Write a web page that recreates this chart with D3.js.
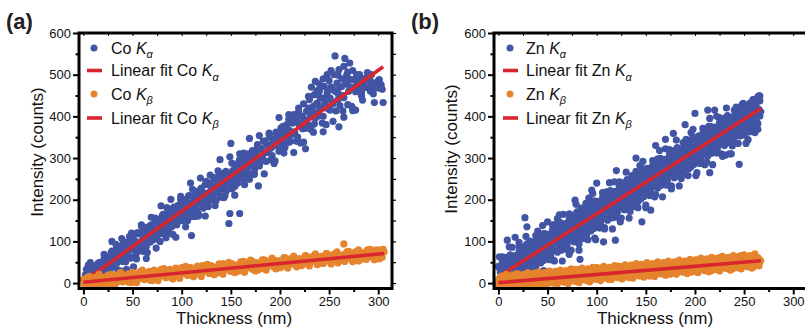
<!DOCTYPE html>
<html><head><meta charset="utf-8">
<script src="https://cdn.jsdelivr.net/npm/d3@7/dist/d3.min.js"></script>
<style>body{margin:0;background:#fff}svg{display:block}text{font-family:"Liberation Sans",Arial,Helvetica,sans-serif}</style>
</head><body><svg id="c" width="805" height="331"></svg>
<script>
// ---------- DATA ----------
const xTicks=[0,50,100,150,200,250,300];
const xMinor=[25,75,125,175,225,275];
const yTicks=[0,100,200,300,400,500,600];
const yMinor=[50,150,250,350,450,550];

const coKaFit=[[0,3],[305,519]];
const coKbFit=[[0,2],[306,71]];
const znKaFit=[[0,15],[267,419]];
const znKbFit=[[0,1],[267,53.5]];

const coKa=[[1,8],[2,20],[3,2],[4,14],[5,43],[5,26],[6,6],[7,18],[8,30],[9,12],[10,38],[10,22],[11,4],[12,28],[13,42],[14,16],[15,33],[16,24],[17,50],[18,36],[19,20],[20,44],[21,58],[22,30],[23,48],[24,62],[25,40],[26,55],[27,30],[28,72],[29,50],[30,40],[31,64],[32,56],[33,80],[34,48],[35,70],[36,86],[37,58],[38,66],[39,90],[40,52],[41,74],[42,98],[43,51],[44,82],[45,68],[46,100],[47,80],[48,60],[49,92],[50,110],[51,39],[52,84],[53,100],[54,72],[55,118],[56,94],[57,86],[58,120],[59,78],[60,104],[61,128],[62,96],[63,112],[64,88],[65,134],[66,108],[67,120],[68,98],[69,140],[70,118],[71,104],[72,130],[73,148],[74,112],[75,126],[76,150],[77,138],[78,100],[79,142],[80,160],[81,128],[82,146],[83,120],[84,166],[85,142],[86,154],[87,130],[88,176],[89,150],[90,136],[91,164],[92,182],[93,148],[94,170],[95,140],[96,186],[97,160],[98,176],[99,150],[100,196],[101,168],[102,186],[103,158],[104,200],[105,178],[106,150],[107,192],[108,210],[109,172],[110,114],[110,188],[111,160],[112,204],[113,182],[114,220],[115,176],[116,196],[117,166],[118,214],[119,190],[120,228],[121,200],[122,180],[123,216],[124,236],[125,196],[126,212],[127,184],[128,240],[129,220],[130,200],[131,232],[132,210],[133,250],[134,226],[135,198],[136,240],[137,218],[138,256],[139,232],[140,206],[141,250],[142,226],[143,264],[144,240],[145,220],[146,258],[147,236],[148,143],[149,167],[150,335],[150,248],[151,226],[152,270],[153,250],[154,232],[155,278],[156,256],[157,240],[158,290],[159,167],[159,262],[160,280],[161,250],[162,300],[163,272],[164,256],[165,290],[166,268],[167,310],[168,280],[169,262],[170,300],[171,284],[172,318],[173,292],[174,270],[175,312],[176,296],[177,326],[178,233],[178,300],[179,286],[180,320],[182,304],[183,340],[184,312],[186,292],[187,332],[188,318],[190,350],[191,324],[192,306],[194,344],[195,330],[196,362],[198,338],[199,316],[200,356],[201,372],[203,340],[204,362],[205,330],[207,380],[208,354],[209,393],[210,366],[211,340],[213,384],[214,404],[215,362],[217,392],[218,350],[219,420],[220,380],[222,400],[223,370],[224,430],[225,392],[226,322],[227,412],[228,380],[230,440],[231,404],[232,376],[232,470],[234,424],[235,452],[236,396],[236,484],[238,432],[238,462],[239,410],[240,460],[240,478],[241,420],[242,470],[243,444],[244,400],[244,490],[245,472],[246,432],[248,456],[248,500],[249,418],[250,486],[251,444],[252,470],[252,510],[254,430],[255,500],[256,545],[256,460],[258,480],[259,440],[260,375],[260,512],[261,470],[263,490],[264,450],[265,398],[265,520],[266,539],[267,478],[268,500],[270,460],[271,528],[272,488],[274,510],[275,417],[276,470],[277,415],[278,500],[280,478],[281,500],[283,449],[284,467],[285,490],[286,490],[287,471],[288,470],[289,492],[290,488],[292,460],[292,499],[293,500],[294,463],[295,454],[296,433],[297,480],[299,470],[300,485],[302,478],[305,433],
[1,2],[3,33],[5,5],[7,49],[9,4],[11,32],[13,6],[15,48],[17,20],[19,39],[21,69],[23,18],[25,59],[27,31],[29,77],[31,49],[33,93],[35,32],[37,76],[39,29],[41,92],[43,64],[45,83],[47,112],[49,62],[51,103],[53,75],[55,121],[57,93],[59,137],[61,76],[63,119],[65,73],[67,136],[69,108],[71,127],[73,156],[75,106],[77,147],[79,119],[81,165],[83,137],[85,181],[87,120],[89,163],[91,117],[93,180],[95,152],[97,171],[99,200],[101,150],[103,191],[105,162],[107,209],[109,181],[111,225],[113,164],[115,207],[117,161],[119,224],[121,195],[123,215],[125,244],[127,194],[129,235],[131,206],[133,253],[135,225],[137,269],[139,208],[141,251],[143,205],[145,268],[147,239],[149,259],[151,288],[153,238],[155,279],[157,250],[159,297],[161,269],[163,312],[165,252],[167,295],[169,249],[171,312],[173,283],[175,303],[177,332],[179,281],[181,323],[183,294],[185,341],[187,313],[189,356],[191,296],[193,339],[195,293],[197,356],[199,327],[201,347],[203,376],[205,325],[207,367],[209,338],[211,385],[213,357],[215,400],[217,340],[219,383],[221,336],[223,400],[225,371],[227,391],[229,420],[231,369],[233,411],[235,382],[237,429],[239,401],[241,444],[243,384],[245,427],[247,380],[249,444],[251,415],[253,435],[255,464],[257,413],[259,455],[261,426],[263,472],[265,445],[267,488],[269,428],[271,471],[273,424],[275,488],[277,459],[279,479],[281,485],[283,457],[285,480],[287,470],[289,490],[291,489],[293,482],[295,472],[297,470],[299,468],[301,488],[303,475],
[29,100],[34,9],[39,107],[44,33],[49,120],[54,58],[59,140],[64,59],[69,158],[74,84],[79,185],[84,109],[89,201],[94,110],[99,208],[104,135],[109,240],[114,160],[119,252],[124,161],[129,259],[134,186],[139,296],[144,210],[149,303],[154,211],[159,310],[164,236],[169,347],[174,261],[179,354],[184,262],[189,360],[194,287],[199,397],[204,312],[209,404],[214,313],[219,411],[224,338],[229,448],[234,362],[239,455],[244,363],[249,462],[254,388],[259,499],[264,413],[269,506],[274,414],[279,470],[284,439],[289,505],[294,464],[299,480],[304,465]];

const coKb=[[0,9],[2,-8],[4,5],[6,16],[8,-1],[10,-9],[12,14],[14,3],[16,21],[18,-2],[20,11],[22,14],[24,-3],[26,10],[28,21],[30,4],[32,-4],[34,19],[36,8],[38,26],[40,3],[42,15],[44,19],[46,2],[48,15],[50,26],[52,9],[54,1],[56,24],[58,13],[60,31],[62,8],[64,20],[66,24],[68,7],[70,20],[72,31],[74,14],[76,6],[78,29],[80,18],[82,35],[84,13],[86,25],[88,29],[90,12],[92,25],[94,36],[96,19],[98,11],[100,34],[102,23],[104,40],[106,18],[108,30],[110,34],[112,17],[114,30],[116,41],[118,24],[120,16],[122,39],[124,28],[126,45],[128,23],[130,35],[132,39],[134,22],[136,35],[138,46],[140,29],[142,21],[144,43],[146,33],[148,50],[150,28],[152,40],[154,44],[156,27],[158,40],[160,51],[162,33],[164,26],[166,48],[168,38],[170,55],[172,33],[174,45],[176,49],[178,32],[180,45],[182,56],[184,38],[186,31],[188,53],[190,43],[192,60],[194,38],[196,50],[198,54],[200,37],[202,50],[204,61],[206,43],[208,36],[210,58],[212,48],[214,65],[216,43],[218,55],[220,59],[222,42],[224,54],[226,66],[228,48],[230,41],[232,63],[234,53],[236,70],[238,48],[240,60],[242,64],[244,47],[246,59],[248,71],[250,53],[252,46],[254,68],[256,58],[258,75],[260,53],[262,65],[264,68],[266,52],[268,64],[270,76],[272,58],[274,51],[276,73],[278,63],[280,80],[282,57],[284,70],[286,73],[288,57],[290,69],[292,81],[294,63],[296,56],[298,78],[300,68],[302,80],[304,62],[306,75],
[1,-1],[4,14],[7,-8],[10,9],[13,-3],[16,19],[19,7],[22,4],[25,19],[28,-4],[31,14],[34,2],[37,23],[40,12],[43,9],[46,23],[49,1],[52,19],[55,6],[58,28],[61,17],[64,13],[67,28],[70,6],[73,23],[76,11],[79,33],[82,21],[85,18],[88,33],[91,10],[94,28],[97,16],[100,37],[103,26],[106,23],[109,38],[112,15],[115,33],[118,21],[121,42],[124,31],[127,28],[130,42],[133,20],[136,38],[139,25],[142,47],[145,36],[148,32],[151,47],[154,25],[157,42],[160,30],[163,52],[166,40],[169,37],[172,52],[175,29],[178,47],[181,35],[184,56],[187,45],[190,42],[193,56],[196,34],[199,52],[202,39],[205,61],[208,50],[211,46],[214,61],[217,39],[220,57],[223,44],[226,66],[229,55],[232,51],[235,66],[238,44],[241,61],[244,49],[247,71],[250,59],[253,56],[256,71],[259,48],[262,66],[265,54],[268,75],[271,64],[274,61],[277,75],[280,53],[283,71],[286,58],[289,80],[292,69],[295,65],[298,80],[301,58],[304,75],[265,94],[305,81]];

const znKa=[[0,40],[1,-5],[2,26],[3,5],[4,63],[5,18],[6,-3],[7,44],[8,2],[9,62],[10,20],[11,87],[12,3],[13,38],[14,4],[15,60],[16,37],[17,66],[18,4],[19,52],[20,30],[21,89],[22,43],[23,2],[24,69],[25,28],[26,87],[27,46],[28,112],[29,29],[30,63],[31,2],[32,85],[33,63],[34,91],[35,30],[36,77],[37,56],[38,114],[39,69],[40,27],[41,95],[42,53],[43,113],[44,71],[45,138],[46,54],[47,89],[48,27],[49,111],[50,89],[51,117],[52,56],[53,103],[54,82],[55,140],[56,95],[57,53],[58,121],[59,79],[60,139],[61,97],[62,164],[63,80],[64,115],[65,53],[66,137],[67,114],[68,143],[69,81],[70,129],[71,107],[72,166],[73,120],[74,79],[75,146],[76,105],[77,164],[78,123],[79,189],[80,106],[81,140],[82,79],[83,162],[84,140],[85,168],[86,107],[87,154],[88,133],[89,191],[90,146],[91,104],[92,172],[93,130],[94,190],[95,148],[96,215],[97,131],[98,166],[99,104],[100,188],[101,165],[102,194],[103,132],[104,180],[105,159],[106,217],[107,172],[108,130],[109,198],[110,156],[111,216],[112,174],[113,241],[114,157],[115,192],[116,130],[117,214],[118,191],[119,220],[120,158],[121,206],[122,184],[123,243],[124,197],[125,156],[126,223],[127,182],[128,241],[129,200],[130,266],[131,183],[132,217],[133,156],[134,239],[135,217],[136,245],[137,184],[138,231],[139,210],[140,268],[141,223],[142,181],[143,249],[144,207],[145,267],[146,225],[147,292],[148,208],[149,243],[150,181],[151,265],[152,242],[153,271],[154,210],[155,257],[156,236],[157,294],[158,249],[159,207],[160,275],[161,233],[162,293],[163,251],[164,318],[165,234],[166,269],[167,207],[168,291],[169,268],[170,297],[171,235],[172,283],[173,261],[174,320],[175,274],[176,233],[177,300],[178,259],[179,318],[180,277],[181,343],[182,260],[183,294],[184,233],[185,316],[186,294],[187,322],[188,261],[189,308],[190,287],[191,345],[192,300],[193,258],[194,326],[195,284],[196,344],[197,302],[198,369],[199,285],[200,320],[201,258],[202,342],[203,319],[204,348],[205,287],[206,334],[207,313],[208,371],[209,326],[210,284],[211,352],[212,310],[213,370],[214,328],[215,395],[216,311],[217,346],[218,284],[219,368],[220,345],[221,374],[222,312],[223,360],[224,338],[225,397],[226,351],[227,310],[228,377],[229,336],[230,395],[231,354],[232,420],[233,337],[234,371],[235,310],[236,393],[237,371],[238,399],[239,338],[240,385],[241,364],[242,422],[243,377],[244,335],[245,403],[246,361],[247,421],[248,379],[249,431],[250,362],[251,397],[252,335],[253,419],[254,396],[255,425],[256,363],[257,411],[258,389],[259,440],[260,403],[261,361],[262,429],[263,387],[264,447],[265,405],[266,449],
[0,-5],[2,30],[4,2],[6,62],[8,19],[10,58],[12,0],[14,86],[16,25],[18,48],[20,5],[22,78],[24,23],[26,34],[28,69],[30,15],[32,101],[34,58],[36,97],[38,39],[40,125],[42,64],[44,87],[46,30],[48,118],[50,63],[52,74],[54,109],[56,55],[58,141],[60,98],[62,137],[64,79],[66,165],[68,104],[70,127],[72,69],[74,157],[76,102],[78,113],[80,148],[82,94],[84,180],[86,137],[88,176],[90,118],[92,204],[94,143],[96,166],[98,108],[100,196],[102,141],[104,152],[106,187],[108,133],[110,219],[112,176],[114,215],[116,157],[118,243],[120,182],[122,205],[124,147],[126,235],[128,180],[130,191],[132,226],[134,172],[136,258],[138,215],[140,254],[142,196],[144,282],[146,221],[148,245],[150,187],[152,275],[154,220],[156,231],[158,266],[160,212],[162,298],[164,255],[166,294],[168,236],[170,322],[172,261],[174,284],[176,226],[178,314],[180,259],[182,270],[184,305],[186,251],[188,337],[190,294],[192,333],[194,275],[196,361],[198,300],[200,323],[202,265],[204,353],[206,298],[208,309],[210,344],[212,290],[214,376],[216,333],[218,372],[220,314],[222,400],[224,339],[226,362],[228,304],[230,392],[232,337],[234,348],[236,383],[238,329],[240,415],[242,372],[244,411],[246,353],[248,428],[250,379],[252,402],[254,344],[256,432],[258,377],[260,388],[262,423],[264,369],[266,437],
[0,3],[1,37],[2,0],[3,26],[4,51],[5,3],[6,38],[7,22],[8,51],[9,-3],[10,32],[11,16],[12,68],[13,45],[14,28],[15,56],[16,15],[17,29],[18,62],[19,16],[20,51],[21,77],[22,28],[23,64],[24,47],[25,77],[26,22],[27,58],[28,41],[29,94],[30,70],[31,54],[32,81],[33,41],[34,54],[35,88],[36,41],[37,77],[38,102],[39,54],[40,89],[41,73],[42,102],[43,48],[44,83],[45,67],[46,119],[47,96],[48,79],[49,107],[50,66],[51,80],[52,113],[53,67],[54,102],[55,128],[56,80],[57,115],[58,99],[59,128],[60,74],[61,109],[62,93],[63,145],[64,122],[65,105],[66,133],[67,92],[68,106],[69,139],[70,93],[71,128],[72,154],[73,105],[74,141],[75,124],[76,154],[77,99],[78,135],[79,118],[80,171],[81,147],[82,131],[83,158],[84,118],[85,131],[86,165],[87,118],[88,154],[89,179],[90,131],[91,166],[92,150],[93,179],[94,125],[95,161],[96,144],[97,197],[98,173],[99,157],[100,184],[101,144],[102,157],[103,191],[104,144],[105,180],[106,205],[107,157],[108,192],[109,176],[110,205],[111,151],[112,186],[113,170],[114,222],[115,199],[116,182],[117,210],[118,169],[119,183],[120,216],[121,170],[122,205],[123,231],[124,182],[125,218],[126,201],[127,231],[128,176],[129,212],[130,195],[131,248],[132,224],[133,208],[134,235],[135,195],[136,208],[137,242],[138,195],[139,231],[140,256],[141,208],[142,243],[143,227],[144,256],[145,202],[146,238],[147,221],[148,274],[149,250],[150,234],[151,261],[152,221],[153,234],[154,268],[155,221],[156,257],[157,282],[158,234],[159,269],[160,253],[161,282],[162,228],[163,263],[164,247],[165,299],[166,276],[167,259],[168,287],[169,246],[170,260],[171,293],[172,247],[173,282],[174,308],[175,259],[176,295],[177,278],[178,308],[179,253],[180,289],[181,272],[182,325],[183,301],[184,285],[185,312],[186,272],[187,285],[188,319],[189,272],[190,308],[191,333],[192,285],[193,320],[194,304],[195,333],[196,279],[197,314],[198,298],[199,350],[200,327],[201,310],[202,338],[203,297],[204,311],[205,345],[206,298],[207,334],[208,359],[209,311],[210,346],[211,330],[212,359],[213,305],[214,340],[215,324],[216,376],[217,353],[218,336],[219,364],[220,323],[221,337],[222,370],[223,324],[224,359],[225,385],[226,336],[227,372],[228,355],[229,385],[230,330],[231,366],[232,349],[233,402],[234,378],[235,362],[236,389],[237,349],[238,362],[239,396],[240,349],[241,385],[242,410],[243,362],[244,397],[245,381],[246,410],[247,356],[248,392],[249,375],[250,428],[251,404],[252,388],[253,415],[254,375],[255,388],[256,422],[257,375],[258,411],[259,436],[260,388],[261,423],[262,407],[263,436],[264,382],[265,417],[266,401],
[1,63],[9,103],[17,110],[21,98],[27,157],[29,135],[50,147],[60,155],[78,199],[95,223],[83,57],[100,240],[120,270],[140,300],[160,330],[170,345],[178,359],[190,380],[200,407],[213,415],[220,415],[231,307],[237,310],[245,285],[251,355],[261,367],[260,437],[265,449],[267,411],[107,99],[119,103],[146,147],[155,175],[215,265]];

const znKb=[[0,9],[1,-11],[2,4],[3,17],[4,-4],[5,-14],[6,13],[7,0],[8,21],[9,-6],[10,8],[11,11],[12,-9],[13,7],[14,19],[15,-2],[16,-12],[17,15],[18,3],[19,23],[20,-4],[21,10],[22,13],[23,-7],[24,9],[25,21],[26,0],[27,-10],[28,18],[29,5],[30,25],[31,-2],[32,12],[33,16],[34,-4],[35,11],[36,23],[37,2],[38,-8],[39,20],[40,7],[41,27],[42,0],[43,15],[44,18],[45,-2],[46,13],[47,25],[48,5],[49,-5],[50,22],[51,9],[52,29],[53,2],[54,17],[55,20],[56,0],[57,15],[58,27],[59,7],[60,-3],[61,24],[62,11],[63,31],[64,5],[65,19],[66,22],[67,2],[68,17],[69,30],[70,9],[71,-1],[72,26],[73,13],[74,34],[75,7],[76,21],[77,24],[78,4],[79,20],[80,32],[81,11],[82,1],[83,28],[84,16],[85,36],[86,9],[87,23],[88,26],[89,7],[90,22],[91,34],[92,13],[93,3],[94,31],[95,18],[96,38],[97,11],[98,25],[99,29],[100,9],[101,24],[102,36],[103,15],[104,6],[105,33],[106,20],[107,40],[108,13],[109,28],[110,31],[111,11],[112,26],[113,38],[114,18],[115,8],[116,35],[117,22],[118,42],[119,15],[120,30],[121,33],[122,13],[123,28],[124,40],[125,20],[126,10],[127,37],[128,24],[129,44],[130,18],[131,32],[132,35],[133,15],[134,30],[135,43],[136,22],[137,12],[138,39],[139,26],[140,47],[141,20],[142,34],[143,37],[144,17],[145,33],[146,45],[147,24],[148,14],[149,41],[150,29],[151,49],[152,22],[153,36],[154,39],[155,20],[156,35],[157,47],[158,26],[159,16],[160,44],[161,31],[162,51],[163,24],[164,38],[165,42],[166,22],[167,37],[168,49],[169,28],[170,19],[171,46],[172,33],[173,53],[174,26],[175,41],[176,44],[177,24],[178,39],[179,51],[180,31],[181,21],[182,48],[183,35],[184,55],[185,28],[186,43],[187,46],[188,26],[189,41],[190,53],[191,33],[192,23],[193,50],[194,37],[195,57],[196,31],[197,45],[198,48],[199,28],[200,43],[201,56],[202,35],[203,25],[204,52],[205,39],[206,60],[207,33],[208,47],[209,50],[210,30],[211,46],[212,58],[213,37],[214,27],[215,54],[216,42],[217,62],[218,35],[219,49],[220,52],[221,33],[222,48],[223,60],[224,39],[225,29],[226,57],[227,44],[228,64],[229,37],[230,51],[231,55],[232,35],[233,50],[234,62],[235,41],[236,31],[237,59],[238,46],[239,66],[240,39],[241,54],[242,57],[243,37],[244,52],[245,64],[246,44],[247,34],[248,61],[249,48],[250,68],[251,41],[252,56],[253,59],[254,39],[255,54],[256,66],[257,46],[258,36],[259,63],[260,50],[261,70],[262,44],[263,58],[264,61],[265,41],[266,56],
[1,-3],[4,15],[7,-12],[10,9],[13,-6],[16,20],[19,6],[22,1],[25,19],[28,-8],[31,13],[34,-2],[37,24],[40,10],[43,6],[46,23],[49,-3],[52,17],[55,2],[58,28],[61,14],[64,10],[67,27],[70,1],[73,21],[76,6],[79,33],[82,18],[85,14],[88,31],[91,5],[94,26],[97,10],[100,37],[103,22],[106,18],[109,36],[112,9],[115,30],[118,14],[121,41],[124,26],[127,22],[130,40],[133,13],[136,34],[139,18],[142,45],[145,31],[148,26],[151,44],[154,17],[157,38],[160,22],[163,49],[166,35],[169,30],[172,48],[175,21],[178,42],[181,27],[184,53],[187,39],[190,34],[193,52],[196,26],[199,46],[202,31],[205,57],[208,43],[211,39],[214,56],[217,30],[220,50],[223,35],[226,62],[229,47],[232,43],[235,60],[238,34],[241,55],[244,39],[247,66],[250,51],[253,47],[256,64],[259,38],[262,59],[265,43],[267,53]];

// ---------- DRAW ----------
const svg=d3.select("#c");
const COL={blue:"#4254a4",orange:"#e5842c",red:"#d8262f"};
const xDomain=[-4.5,314], yDomain=[-13,600];
const TOP=33, BOT=288.5, W=313;

function panel(cfg){
  const L=cfg.left;
  const x=d3.scaleLinear().domain(xDomain).range([L,L+W]);
  const y=d3.scaleLinear().domain(yDomain).range([BOT,TOP]);
  const g=svg.append("g");
  svg.append("clipPath").attr("id","clip"+cfg.id).append("rect")
    .attr("x",L).attr("y",TOP).attr("width",W).attr("height",BOT-TOP);
  const plot=g.append("g").attr("clip-path",`url(#clip${cfg.id})`);
  const line=d3.line().x(d=>x(d[0])).y(d=>y(d[1]));
  const pts=(data,c)=>plot.append("g").selectAll("circle").data(data).join("circle")
      .attr("cx",d=>x(d[0])).attr("cy",d=>y(d[1])).attr("r",3.6).attr("fill",c);
  const fit=(d)=>plot.append("path").attr("d",line(d)).attr("fill","none")
      .attr("stroke",COL.red).attr("stroke-width",3.6);
  pts(cfg.ka,COL.blue); fit(cfg.kaFit);
  pts(cfg.kb,COL.orange); fit(cfg.kbFit);

  const style=(sel,w)=>{sel.select(".domain").remove();
    sel.selectAll("line").attr("stroke","#000").attr("stroke-width",w);
    sel.selectAll("text").attr("font-size",13).attr("fill","#111")
      .attr("font-family",'"Liberation Sans",Arial,sans-serif');};
  g.append("g").attr("transform",`translate(${L},0)`)
    .call(d3.axisLeft(y).tickValues(yTicks).tickSize(6).tickPadding(2)).call(s=>style(s,2));
  g.append("g").attr("transform",`translate(${L},0)`)
    .call(d3.axisLeft(y).tickValues(yMinor).tickSize(3.5).tickFormat("")).call(s=>style(s,2));
  g.append("g").attr("transform",`translate(0,${BOT})`)
    .call(d3.axisBottom(x).tickValues(xTicks).tickSize(6).tickPadding(2)).call(s=>style(s,2));
  g.append("g").attr("transform",`translate(0,${BOT})`)
    .call(d3.axisBottom(x).tickValues(xMinor).tickSize(3.5).tickFormat("")).call(s=>style(s,2));
  g.append("g").attr("transform",`translate(${L+W},0)`)
    .call(d3.axisRight(y).tickValues(yTicks.concat(yMinor)).tickSize(4).tickFormat("")).call(s=>style(s,1.2));
  g.append("g").attr("transform",`translate(0,${TOP})`)
    .call(d3.axisBottom(x).tickValues(xTicks.concat(xMinor)).tickSize(3).tickFormat("")).call(s=>style(s,1));
  g.append("rect").attr("x",L).attr("y",TOP).attr("width",W).attr("height",BOT-TOP)
    .attr("fill","none").attr("stroke","#000").attr("stroke-width",3);

  g.append("text").attr("x",cfg.xtX).attr("y",324).attr("text-anchor","middle")
    .attr("font-size",17).attr("fill","#111").text("Thickness (nm)");
  g.append("text").attr("transform",`translate(${cfg.ytX},${cfg.ytY}) rotate(-90)`)
    .attr("text-anchor","middle").attr("font-size",17).attr("fill","#111").text("Intensity (counts)");
  g.append("text").attr("x",cfg.labX).attr("y",29).attr("font-size",22).attr("font-weight","bold")
    .attr("fill","#222").text(cfg.label);

  const rows=[{t:"dot",c:COL.blue,txt:cfg.el+" ",sub:"α"},
              {t:"line",c:COL.red,txt:"Linear fit "+cfg.el+" ",sub:"α"},
              {t:"dot",c:COL.orange,txt:cfg.el+" ",sub:"β"},
              {t:"line",c:COL.red,txt:"Linear fit "+cfg.el+" ",sub:"β"}];
  const cy=[48,70.5,94,118];
  rows.forEach((r,i)=>{
    if(r.t==="dot") g.append("circle").attr("cx",cfg.legX).attr("cy",cy[i]).attr("r",3.5).attr("fill",r.c);
    else g.append("line").attr("x1",cfg.legX-7).attr("x2",cfg.legX+8).attr("y1",cy[i]).attr("y2",cy[i])
      .attr("stroke",r.c).attr("stroke-width",3.6);
    const t=g.append("text").attr("x",cfg.legT).attr("y",cy[i]+5.8).attr("font-size",16).attr("fill","#111");
    t.append("tspan").text(r.txt);
    t.append("tspan").attr("font-style","italic").text("K");
    t.append("tspan").attr("font-style","italic").attr("font-size",11).attr("dy",4.5).text(r.sub);
  });
}

panel({id:"a",left:79,ka:coKa,kb:coKb,kaFit:coKaFit,kbFit:coKbFit,el:"Co",
  xtX:234,ytX:42.5,ytY:152,labX:6,label:"(a)",legX:94,legT:111});
panel({id:"b",left:494,ka:znKa,kb:znKb,kaFit:znKaFit,kbFit:znKbFit,el:"Zn",
  xtX:655,ytX:457,ytY:149,labX:411,label:"(b)",legX:510,legT:526});
</script></body></html>
